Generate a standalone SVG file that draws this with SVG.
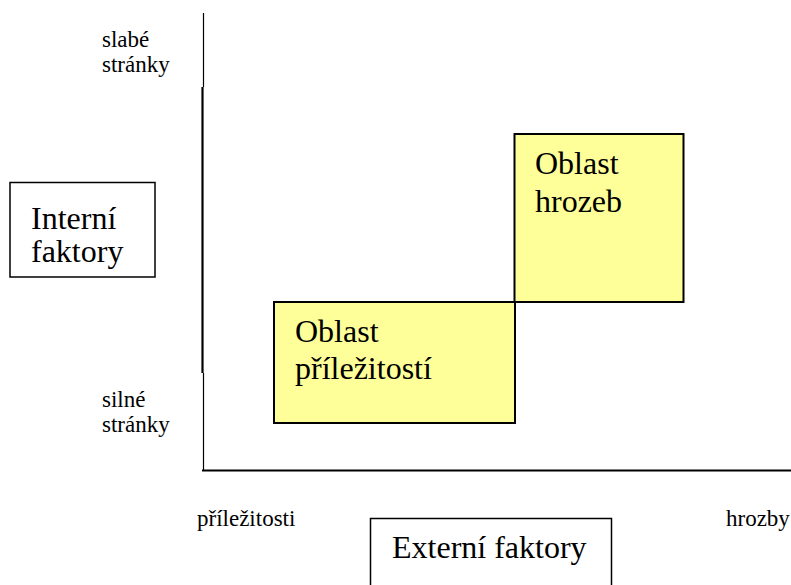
<svg xmlns="http://www.w3.org/2000/svg" width="791" height="585" viewBox="0 0 791 585">
  <style>
    text { font-family: 'Times New Roman', 'Liberation Serif', 'Noto Serif', 'DejaVu Serif', serif; fill: #000; }
    .big { font-size: 32px; }
    .small { font-size: 23px; }
    .frame { fill: #fff; stroke: #000; stroke-width: 1.5; }
    .area { fill: #ffff99; stroke: #000; stroke-width: 2; }
    .axis { stroke: #000; fill: none; }
  </style>
  <rect width="791" height="585" fill="#fff"/>

  <!-- axes -->
  <g id="connectors">
    <line class="axis" x1="203.5" y1="13" x2="203.5" y2="87" stroke-width="1.2"/>
    <line class="axis" x1="202.5" y1="87" x2="202.5" y2="373" stroke-width="2.2"/>
    <line class="axis" x1="203.5" y1="373" x2="203.5" y2="470" stroke-width="1.2"/>
    <line class="axis" x1="202" y1="470.5" x2="791" y2="470.5" stroke-width="2.2"/>
  </g>

  <!-- vertical axis labels -->
  <g id="label-weak">
    <text class="small" x="102" y="47">slabé</text>
    <text class="small" x="102" y="72">stránky</text>
  </g>
  <g id="label-strong">
    <text class="small" x="102" y="407">silné</text>
    <text class="small" x="102" y="432">stránky</text>
  </g>

  <!-- horizontal axis labels -->
  <g id="label-opportunities">
    <text class="small" x="197" y="526">příležitosti</text>
  </g>
  <g id="label-threats">
    <text class="small" x="726" y="526">hrozby</text>
  </g>

  <!-- internal factors -->
  <g id="internal-factors">
    <rect class="frame" x="10" y="182.5" width="145" height="94.5"/>
    <text class="big" x="31" y="229">Interní</text>
    <text class="big" x="31" y="262">faktory</text>
  </g>

  <!-- external factors -->
  <g id="external-factors">
    <rect class="frame" x="370.5" y="518.5" width="241" height="80"/>
    <text class="big" x="392" y="558">Externí faktory</text>
  </g>

  <!-- opportunity area -->
  <g id="opportunity-area">
    <rect class="area" x="274" y="302" width="241" height="121"/>
    <text class="big" x="295" y="342">Oblast</text>
    <text class="big" x="295" y="379">příležitostí</text>
  </g>

  <!-- threat area -->
  <g id="threat-area">
    <rect class="area" x="514.5" y="134" width="169" height="168"/>
    <text class="big" x="535" y="174">Oblast</text>
    <text class="big" x="535" y="212">hrozeb</text>
  </g>
</svg>
